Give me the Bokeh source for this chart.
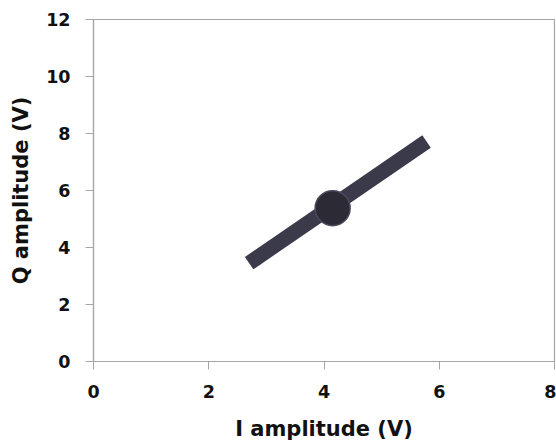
from bokeh.plotting import figure
from bokeh.models import Range1d, FixedTicker
from bokeh.embed import file_html
from bokeh.resources import INLINE

# data
trace_i = [2.70, 5.78]
trace_q = [3.45, 7.72]
center_i = [4.15]
center_q = [5.38]
x_ticks = [0, 2, 4, 6, 8]
y_ticks = [0, 2, 4, 6, 8, 10, 12]

FONT = "DejaVu Sans"
AXIS_COL = "#a6a6a6"

p = figure(width=556, height=445, output_backend="svg", toolbar_location=None,
           x_range=Range1d(0, 8), y_range=Range1d(0, 12),
           min_border_left=93, min_border_right=2, min_border_top=19, min_border_bottom=84)
p.xgrid.visible = False
p.ygrid.visible = False
p.outline_line_color = AXIS_COL
p.outline_line_width = 1.2
p.background_fill_color = "white"
p.border_fill_color = "white"

for ax, ticks in ((p.xaxis[0], x_ticks), (p.yaxis[0], y_ticks)):
    ax.ticker = FixedTicker(ticks=ticks)
    ax.axis_line_color = AXIS_COL
    ax.axis_line_width = 1.2
    ax.major_tick_line_color = AXIS_COL
    ax.major_tick_in = 0
    ax.major_tick_out = 8
    ax.minor_tick_line_color = None
    ax.major_label_text_font = FONT
    ax.major_label_text_font_style = "bold"
    ax.major_label_text_font_size = "17.5px"
    ax.major_label_text_color = "#111111"
    ax.axis_label_text_font = FONT
    ax.axis_label_text_font_style = "bold"
    ax.axis_label_text_font_size = "21px"
    ax.axis_label_text_color = "#111111"

p.xaxis.axis_label = "I amplitude (V)"
p.yaxis.axis_label = "Q amplitude (V)"
p.xaxis.major_label_standoff = 15
p.yaxis.major_label_standoff = 15
p.xaxis.axis_label_standoff = 16
p.yaxis.axis_label_standoff = 10

p.line(trace_i, trace_q, line_width=15, line_color="#3b3a4b", line_cap="butt")
p.scatter(center_i, center_q, size=35, marker="circle",
          fill_color="#2b2a35", line_color="#4c4b5c", line_width=1.5)

open("out.html", "w").write(file_html(p, INLINE))
